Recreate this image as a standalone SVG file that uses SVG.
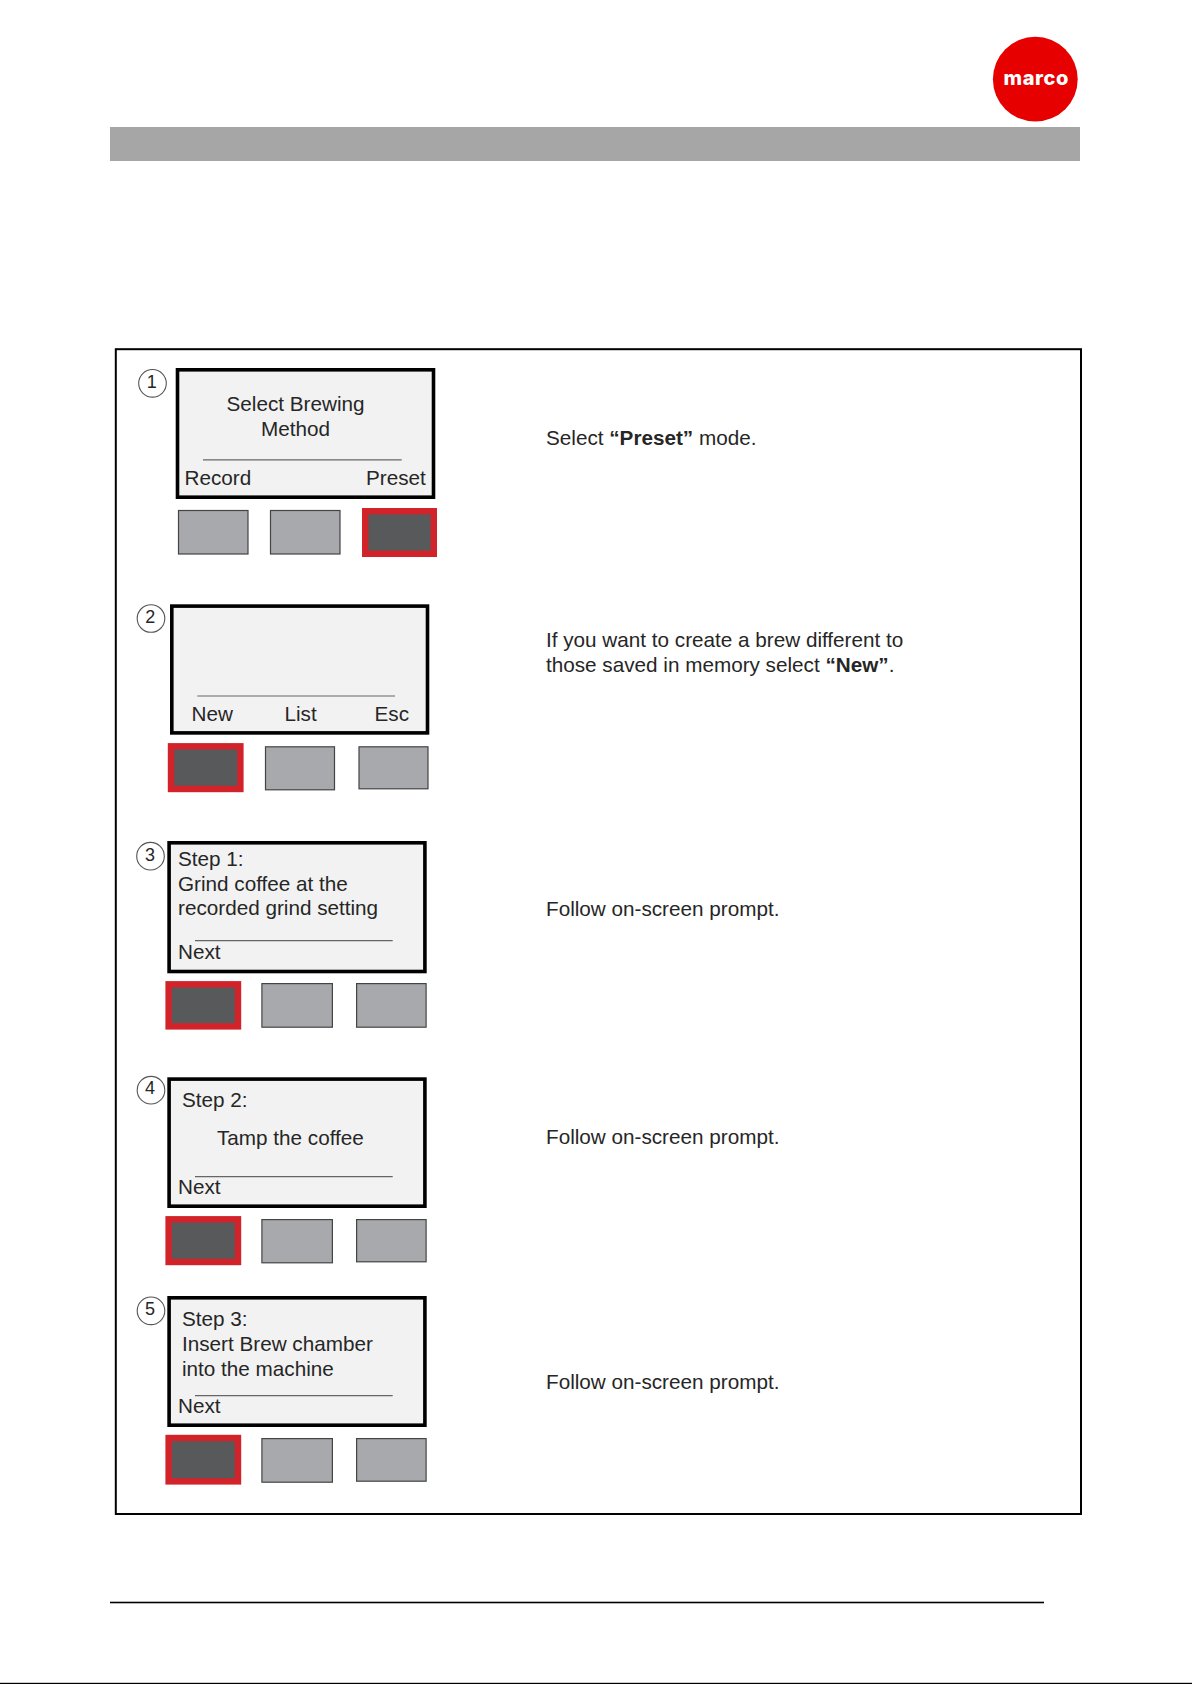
<svg xmlns="http://www.w3.org/2000/svg" width="1192" height="1684" viewBox="0 0 1192 1684">
<style>
text{font-family:"Liberation Sans",Arial,sans-serif;font-size:20.7px;fill:#262626}
.b{font-weight:700}
.screen{fill:#f2f2f2;stroke:#000;stroke-width:3.6}
.rule{stroke:#666;stroke-width:1.2;fill:none}
.btn{fill:#a7a9ac;stroke:#444;stroke-width:1.2}
.on{fill:#58595b;stroke:#d2232a;stroke-width:6.4}
.num{fill:#fff;stroke:#555;stroke-width:1.1}
.d{font-size:18px;text-anchor:middle}
.m{text-anchor:middle}
</style>
<rect width="1192" height="1684" fill="#fff"/>
<g id="header">
<rect x="110" y="127" width="970" height="34" fill="#a6a6a6"/>
<circle cx="1035.3" cy="79.2" r="42.4" fill="#e60000"/>
<text x="1003.5" y="84.7" textLength="65" lengthAdjust="spacing" style="font-family:Inter,'Liberation Sans',sans-serif;font-size:20px;font-weight:800;fill:#fff">marco</text>
</g>
<rect id="frame" x="115.8" y="349.2" width="965.2" height="164.8" fill="none" stroke="#000" stroke-width="2" transform="translate(0 0)" style="display:none"/>
<rect id="panel" x="115.8" y="349.2" width="965.2" height="1164.8" fill="none" stroke="#000" stroke-width="2"/>
<g id="step1">
<circle class="num" cx="152.5" cy="383.3" r="13.8"/><text class="d" x="151.7" y="387.5">1</text>
<rect class="screen" x="177.5" y="369.8" width="256" height="127.4"/>
<line class="rule" x1="203" y1="459.8" x2="401.7" y2="459.8"/>
<text class="m" x="295.5" y="410.7">Select Brewing</text>
<text class="m" x="295.5" y="435.7">Method</text>
<text x="184.5" y="485">Record</text>
<text x="366" y="485">Preset</text>
<rect class="btn" x="178.5" y="510.5" width="69.5" height="43.5"/>
<rect class="btn" x="270.5" y="510.5" width="69.5" height="43.5"/>
<rect class="on" x="365.2" y="511.2" width="68.6" height="42.6"/>
</g>
<g id="step2">
<circle class="num" cx="151" cy="618.5" r="13.8"/><text class="d" x="150.3" y="622.7">2</text>
<rect class="screen" x="171.8" y="606.1" width="255.7" height="126.8"/>
<line class="rule" x1="197.3" y1="696" x2="395" y2="696"/>
<text x="191.5" y="721">New</text>
<text x="284.5" y="721">List</text>
<text x="374.5" y="721">Esc</text>
<rect class="on" x="171" y="746.3" width="69.4" height="42.7"/>
<rect class="btn" x="265.5" y="746.8" width="69" height="43"/>
<rect class="btn" x="359" y="746.8" width="69" height="42"/>
</g>
<g id="step3">
<circle class="num" cx="150.5" cy="856.2" r="13.8"/><text class="d" x="150" y="860.7">3</text>
<rect class="screen" x="169.1" y="842.8" width="255.8" height="128.7"/>
<line class="rule" x1="195" y1="940.7" x2="392.7" y2="940.7"/>
<text x="178" y="865.7">Step 1:</text>
<text x="178" y="890.5">Grind coffee at the</text>
<text x="178" y="915.3">recorded grind setting</text>
<text x="178" y="959.3">Next</text>
<rect class="on" x="168.6" y="984.3" width="69.4" height="42.1"/>
<rect class="btn" x="261.9" y="983.6" width="70.5" height="43.6"/>
<rect class="btn" x="356.6" y="983.6" width="69.5" height="43.6"/>
</g>
<g id="step4">
<circle class="num" cx="151" cy="1090.2" r="13.8"/><text class="d" x="150" y="1094.3">4</text>
<rect class="screen" x="169.1" y="1079.1" width="255.8" height="127.1"/>
<line class="rule" x1="195" y1="1176.7" x2="392.7" y2="1176.7"/>
<text x="182" y="1107">Step 2:</text>
<text x="217" y="1144.5">Tamp the coffee</text>
<text x="178" y="1194.3">Next</text>
<rect class="on" x="168.6" y="1219.3" width="69.4" height="42.7"/>
<rect class="btn" x="261.9" y="1219.6" width="70.5" height="43.2"/>
<rect class="btn" x="356.6" y="1219.6" width="69.5" height="42.2"/>
</g>
<g id="step5">
<circle class="num" cx="151" cy="1310.8" r="13.8"/><text class="d" x="150" y="1315">5</text>
<rect class="screen" x="169.1" y="1297.8" width="255.8" height="127.4"/>
<line class="rule" x1="195" y1="1395.7" x2="392.7" y2="1395.7"/>
<text x="182" y="1326.3">Step 3:</text>
<text x="182" y="1351.2">Insert Brew chamber</text>
<text x="182" y="1376">into the machine</text>
<text x="178" y="1413.3">Next</text>
<rect class="on" x="168.6" y="1438" width="69.4" height="43.4"/>
<rect class="btn" x="261.9" y="1438.6" width="70.5" height="43.6"/>
<rect class="btn" x="356.6" y="1438.6" width="69.5" height="42.6"/>
</g>
<g id="instructions">
<text x="546" y="444.5">Select <tspan class="b">“Preset”</tspan> mode.</text>
<text x="546" y="646.7">If you want to create a brew different to</text>
<text x="546" y="671.7">those saved in memory select <tspan class="b">“New”</tspan>.</text>
<text x="546" y="916.3">Follow on-screen prompt.</text>
<text x="546" y="1143.5">Follow on-screen prompt.</text>
<text x="546" y="1388.5">Follow on-screen prompt.</text>
</g>
<g id="footer">
<rect x="110" y="1601.7" width="934" height="1.6" fill="#000"/>
<rect x="0" y="1682.8" width="1192" height="1.2" fill="#000"/>
</g>
</svg>
